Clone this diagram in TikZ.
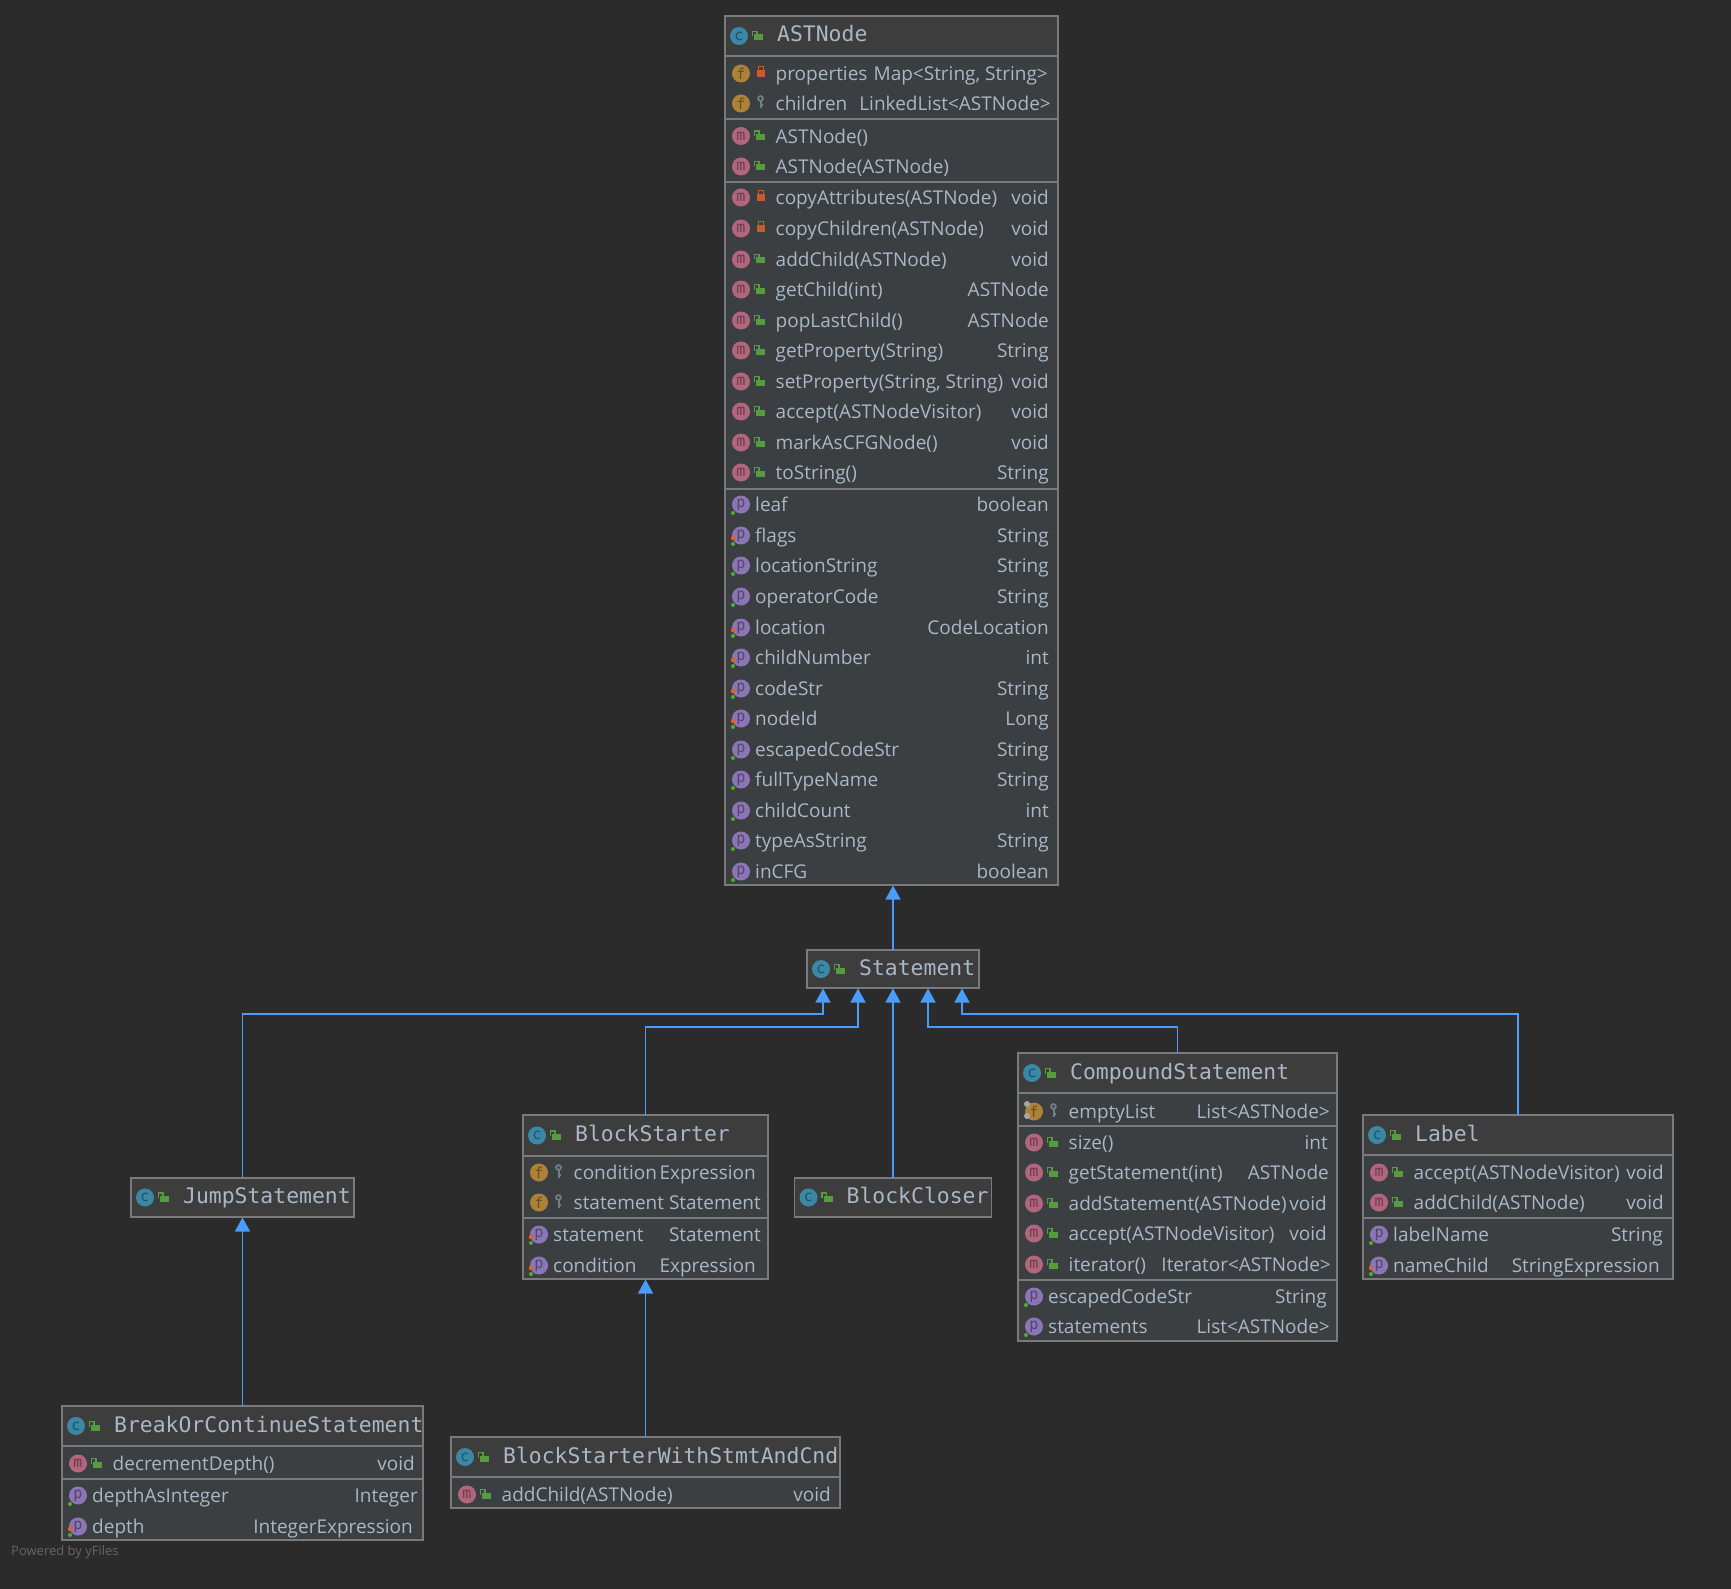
\documentclass[tikz,border=0pt]{standalone}
\usepackage{fontspec}
\usepackage{tikz}
\usetikzlibrary{arrows.meta,positioning,calc}
\setmainfont{Open Sans}
\setmonofont{DejaVu Sans Mono}
\definecolor{umlbg}{HTML}{2B2B2B}
\definecolor{umlbody}{HTML}{3C3F41}
\definecolor{umlhead}{HTML}{3D3D3D}
\definecolor{umlline}{HTML}{787A7C}
\definecolor{umltext}{HTML}{A9B7C6}
\definecolor{umlfoot}{HTML}{666666}
\definecolor{umlblue}{HTML}{4A9CF8}
\definecolor{umlgreen}{HTML}{569B3E}
\definecolor{umlred}{HTML}{C65C2D}
\definecolor{umlkey}{HTML}{6F7F85}
\definecolor{umldot}{HTML}{E8601C}
\definecolor{umldotg}{HTML}{4FAE2E}
\definecolor{iconc}{HTML}{3A88A6}
\definecolor{iconf}{HTML}{AD8238}
\definecolor{iconm}{HTML}{B1667D}
\definecolor{iconp}{HTML}{8B75B5}
\newcounter{itemno}
\tikzset{
  classbox/.style={draw=umlline, line width=1.3pt, fill=umlbody, anchor=north west, inner sep=0pt, outer sep=0pt},
  sepline/.style={draw=umlline, line width=1.3pt},
  badge/.style={circle, inner sep=0pt, minimum size=18pt, font=\fontsize{15}{15}\ttfamily},
  rowtext/.style={text=umltext, inner sep=0pt, anchor=base west, font=\fontsize{19}{20}\selectfont},
  rowtype/.style={text=umltext, inner sep=0pt, anchor=base east, font=\fontsize{19}{20}\selectfont},
  titletext/.style={text=umltext, inner sep=0pt, anchor=base west, font=\fontsize{21.4}{24}\ttfamily},
  footnote/.style={text=umlfoot, inner sep=0pt, anchor=base west, font=\fontsize{13}{15}\selectfont},
  arrow/.style={-{Triangle[length=14pt,width=15pt]}, line width=1.3pt, draw=umlblue, shorten >=0.5pt}
}
% locks: #1 left edge of the class, #2 row centre
\newcommand{\lockpub}[2]{
  \fill[umlgreen] (#1+31,#2-2) rectangle (#1+40,#2+4);
  \draw[umlgreen, line width=1.2pt] (#1+29.5,#2) -- (#1+29.5,#2-5) -- (#1+34,#2-5) -- (#1+34,#2-2);
}
\newcommand{\lockpriv}[2]{
  \fill[umlred] (#1+32,#2-3) rectangle (#1+40,#2+4);
  \draw[umlred, line width=1.2pt] (#1+33.5,#2-3) -- (#1+33.5,#2-7) -- (#1+38.5,#2-7) -- (#1+38.5,#2-3);
}
\newcommand{\lockkey}[2]{
  \draw[umlkey, line width=1.8pt] (#1+35.5,#2-5) circle (2.4);
  \draw[umlkey, line width=2pt] (#1+35.5,#2-3) -- (#1+35.5,#2+5) (#1+35.5,#2+2) -- (#1+38,#2+2);
}
\newcommand{\badgenode}[4]{
  \stepcounter{itemno}
  \node[badge, fill=#1, text=#1!60!black] (badge\theitemno) at (#2,#3) {#4};
}
% #1 left, #2 top, #3 right, #4 bottom of the header, #5 class name
\newcommand{\classhead}[5]{
  \stepcounter{itemno}
  \pgfmathsetmacro{\hmid}{(#2+#4)/2}
  \fill[umlhead] (#1+0.75,#2+0.75) rectangle (#3-0.75,#4);
  \badgenode{iconc}{#1+14}{\hmid}{c}
  \lockpub{#1-2}{\hmid+0.5}
  \node[titletext] (title\theitemno) at (#1+52,\hmid+6) {#5};
  \draw[sepline] (#1,#4) -- (#3,#4);
}
% #1 left, #2 y, #3 lock, #4 name, #5 type, #6 right end of type
\newcommand{\frow}[6]{
  \badgenode{iconf}{#1+16}{#2-0.5}{f}
  #3{#1}{#2-0.5}
  \node[rowtext] (name\theitemno) at (#1+50.5,#2+6.7) {#4};
  \node[rowtype] (type\theitemno) at (#6,#2+6.7) {#5};
}
\newcommand{\mrow}[6]{
  \badgenode{iconm}{#1+16}{#2-0.5}{m}
  #3{#1}{#2-0.5}
  \node[rowtext] (name\theitemno) at (#1+50.5,#2+6.7) {#4};
  \node[rowtype] (type\theitemno) at (#6,#2+6.7) {#5};
}
% #1 left, #2 y, #3 1 if writable, #4 name, #5 type, #6 right end of type
\newcommand{\prow}[6]{
  \badgenode{iconp}{#1+16}{#2-0.5}{p}
  \fill[umldotg] (#1+8,#2+8) circle (2);
  \ifnum#3=1 \fill[umldot] (#1+8,#2+2) circle (2.2); \fi
  \node[rowtext] (name\theitemno) at (#1+30,#2+6.7) {#4};
  \node[rowtype] (type\theitemno) at (#6,#2+6.7) {#5};
}

\begin{document}
\begin{tikzpicture}[x=1pt, y=-1pt]
  \useasboundingbox (0,0) rectangle (1731,1589);
  \fill[umlbg] (0,0) rectangle (1731,1589);

  % class boxes
  \node[classbox, minimum width=333pt, minimum height=869pt] (astnode) at (725,16) {};
  \node[classbox, minimum width=172pt, minimum height=38pt] (statement) at (807,950) {};
  \node[classbox, minimum width=223pt, minimum height=39pt] (jump) at (131,1178) {};
  \node[classbox, minimum width=245pt, minimum height=164pt] (blockstarter) at (523,1115) {};
  \node[classbox, minimum width=197pt, minimum height=39pt] (blockcloser) at (794.5,1178) {};
  \node[classbox, minimum width=319pt, minimum height=288pt] (compound) at (1018,1053) {};
  \node[classbox, minimum width=310pt, minimum height=164pt] (labelstmt) at (1363,1115) {};
  \node[classbox, minimum width=361pt, minimum height=134pt] (breakstmt) at (62,1406) {};
  \node[classbox, minimum width=389pt, minimum height=71pt] (starterstmt) at (451,1437) {};

  % ASTNode
  \classhead{725}{16}{1058}{56}{ASTNode}
  \frow{725}{74}{\lockpriv}{properties}{Map<String, String>}{1048}
  \frow{725}{104}{\lockkey}{children}{LinkedList<ASTNode>}{1051}
  \draw[sepline] (725,119) -- (1058,119);
  \mrow{725}{136.5}{\lockpub}{ASTNode()}{}{1049}
  \mrow{725}{167}{\lockpub}{ASTNode(ASTNode)}{}{1049}
  \draw[sepline] (725,182) -- (1058,182);
  \foreach \ya/\lk/\nm/\ty in {198/\lockpriv/copyAttributes(ASTNode)/void, 229/\lockpriv/copyChildren(ASTNode)/void,
      260/\lockpub/addChild(ASTNode)/void, 290/\lockpub/getChild(int)/ASTNode, 321/\lockpub/popLastChild()/ASTNode,
      351/\lockpub/getProperty(String)/String, 382/\lockpub/{setProperty(String, String)}/void,
      412/\lockpub/accept(ASTNodeVisitor)/void, 443/\lockpub/markAsCFGNode()/void, 473/\lockpub/toString()/String}
    {\mrow{725}{\ya}{\lk}{\nm}{\ty}{1049}}
  \draw[sepline] (725,489) -- (1058,489);
  \foreach \ya/\wr/\nm/\ty in {505/0/leaf/boolean, 536/1/flags/String, 566/0/locationString/String, 597/0/operatorCode/String,
      628/1/location/CodeLocation, 658/1/childNumber/int, 689/1/codeStr/String, 719/1/nodeId/Long,
      750/0/escapedCodeStr/String, 780/0/fullTypeName/String, 811/0/childCount/int, 841/0/typeAsString/String, 872/0/inCFG/boolean}
    {\prow{725}{\ya}{\wr}{\nm}{\ty}{1049}}

  % Statement, JumpStatement, BlockCloser
  \classhead{807}{950}{979}{988}{Statement}
  \classhead{131}{1178}{354}{1217}{JumpStatement}
  \classhead{794.5}{1178}{991.5}{1217}{BlockCloser}

  % BlockStarter
  \classhead{523}{1115}{768}{1156}{BlockStarter}
  \frow{523}{1173}{\lockkey}{condition}{Expression}{756}
  \frow{523}{1203}{\lockkey}{statement}{Statement}{761}
  \draw[sepline] (523,1218) -- (768,1218);
  \prow{523}{1235}{1}{statement}{Statement}{761}
  \prow{523}{1266}{1}{condition}{Expression}{756}

  % CompoundStatement
  \classhead{1018}{1053}{1337}{1093}{CompoundStatement}
  \frow{1018}{1112}{\lockkey}{emptyList}{List<ASTNode>}{1330}
  \fill[gray!70] (1027,1104) circle (3) (1027,1116) circle (3);
  \draw[sepline] (1018,1126) -- (1337,1126);
  \mrow{1018}{1143}{\lockpub}{size()}{int}{1328}
  \mrow{1018}{1173}{\lockpub}{getStatement(int)}{ASTNode}{1329}
  \mrow{1018}{1204}{\lockpub}{addStatement(ASTNode)}{void}{1327}
  \mrow{1018}{1234}{\lockpub}{accept(ASTNodeVisitor)}{void}{1327}
  \mrow{1018}{1265}{\lockpub}{iterator()}{Iterator<ASTNode>}{1331}
  \draw[sepline] (1018,1280) -- (1337,1280);
  \prow{1018}{1297}{0}{escapedCodeStr}{String}{1327}
  \prow{1018}{1327}{0}{statements}{List<ASTNode>}{1330}

  % Label
  \classhead{1363}{1115}{1673}{1155}{Label}
  \mrow{1363}{1173}{\lockpub}{accept(ASTNodeVisitor)}{void}{1664}
  \mrow{1363}{1203}{\lockpub}{addChild(ASTNode)}{void}{1664}
  \draw[sepline] (1363,1218) -- (1673,1218);
  \prow{1363}{1235}{0}{labelName}{String}{1663}
  \prow{1363}{1266}{1}{nameChild}{StringExpression}{1660}

  % BreakOrContinueStatement
  \classhead{62}{1406}{423}{1446}{BreakOrContinueStatement}
  \mrow{62}{1464}{\lockpub}{decrementDepth()}{void}{415}
  \draw[sepline] (62,1479) -- (423,1479);
  \prow{62}{1496}{0}{depthAsInteger}{Integer}{418}
  \prow{62}{1527}{1}{depth}{IntegerExpression}{413}

  % BlockStarterWithStmtAndCnd
  \classhead{451}{1437}{840}{1477}{BlockStarterWithStmtAndCnd}
  \mrow{451}{1495}{\lockpub}{addChild(ASTNode)}{void}{831}

  \node[footnote] (powered) at (11,1555) {Powered by yFiles};

  % inheritance arrows
  \coordinate (jumpturn) at (823,1014);
  \coordinate (starterturn) at (858,1027);
  \coordinate (compoundturn) at (928,1027);
  \coordinate (labelturn) at (962,1014);
  \draw[arrow] (statement.north) -- (statement.north|-astnode.south);
  \draw[arrow] (jump.north) |- (jumpturn) -- ([xshift=-70pt]statement.south);
  \draw[arrow] (blockstarter.north) |- (starterturn) -- ([xshift=-35pt]statement.south);
  \draw[arrow] (blockcloser.north-|statement.south) -- (statement.south);
  \draw[arrow] (compound.north) |- (compoundturn) -- ([xshift=35pt]statement.south);
  \draw[arrow] (labelstmt.north) |- (labelturn) -- ([xshift=69pt]statement.south);
  \draw[arrow] (breakstmt.north) -- (jump.south);
  \draw[arrow] (starterstmt.north) -- (blockstarter.south);
\end{tikzpicture}
\end{document}
